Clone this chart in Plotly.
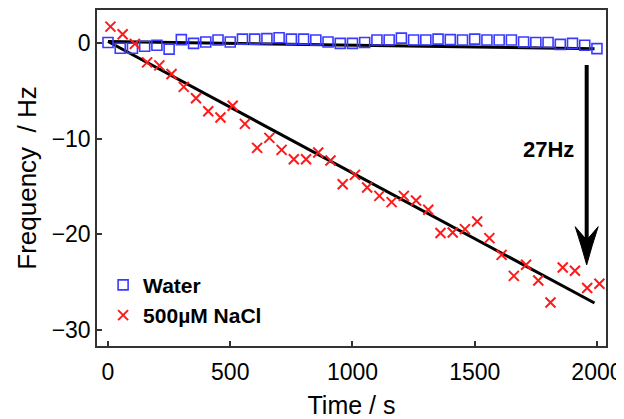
import plotly.graph_objects as go

# ---- data ----
water_t = [0, 50, 100, 150, 200, 250, 300, 350, 400, 450, 500, 550, 600, 650, 700,
           750, 800, 850, 900, 950, 1000, 1050, 1100, 1150, 1200, 1250, 1300, 1350,
           1400, 1450, 1500, 1550, 1600, 1650, 1700, 1750, 1800, 1850, 1900, 1950, 2000]
water_f = [0.1, -0.5, -0.5, -0.3, -0.2, -0.6, 0.4, 0.0, 0.15, 0.35, 0.15, 0.45, 0.45,
           0.5, 0.6, 0.45, 0.45, 0.35, 0.15, 0.0, 0.0, 0.1, 0.35, 0.35, 0.55, 0.35,
           0.35, 0.45, 0.4, 0.35, 0.45, 0.35, 0.35, 0.35, 0.15, 0.1, 0.1, -0.1, 0.0,
           -0.2, -0.55]

nacl_t = [10, 60, 110, 160, 210, 260, 310, 360, 410, 460, 510, 560, 610, 660, 710,
          760, 810, 860, 910, 960, 1010, 1060, 1110, 1160, 1210, 1260, 1310, 1360,
          1410, 1460, 1510, 1560, 1610, 1660, 1710, 1760, 1810, 1860, 1910, 1960, 2010]
nacl_f = [1.76, 0.96, -0.05, -1.99, -2.3, -3.21, -4.55, -5.74, -7.1, -7.77, -6.53,
          -8.43, -10.94, -9.9, -11.15, -12.13, -12.13, -11.43, -12.27, -14.76, -13.77,
          -15.1, -15.97, -16.63, -15.97, -16.46, -17.43, -19.87, -19.81, -19.46, -18.66,
          -20.4, -22.15, -24.35, -23.19, -24.84, -27.14, -23.48, -23.82, -25.63, -25.18]

fit_t = [0, 1990]
water_fit = [0.2, -0.55]
nacl_fit = [0.2, -27.2]

x_ticks = [0, 500, 1000, 1500, 2000]
y_ticks = [0, -10, -20, -30]

arrow_x = 1958
arrow_top = -2.25
arrow_notch = -20.6
arrow_corner = -19.2
arrow_tip = -23.2
arrow_halfwidth = 47
label_x, label_y, label_text = 1800, -11.15, "27Hz"

FONT = "Liberation Sans, Arial, sans-serif"

fig = go.Figure()
fig.add_trace(go.Scatter(x=fit_t, y=water_fit, mode="lines",
                         line=dict(color="black", width=3), showlegend=False))
fig.add_trace(go.Scatter(x=fit_t, y=nacl_fit, mode="lines",
                         line=dict(color="black", width=3), showlegend=False))
fig.add_trace(go.Scatter(x=water_t, y=water_f, mode="markers", name="Water",
                         marker=dict(symbol="square-open", size=10, color="#3a3aff",
                                     line=dict(width=1.6, color="#3a3aff"))))
fig.add_trace(go.Scatter(x=nacl_t, y=nacl_f, mode="markers", name="500µM NaCl",
                         marker=dict(symbol="x-thin-open", size=10, color="#ff1a1a",
                                     line=dict(width=2, color="#ff1a1a"))))

# arrow shaft and head
fig.add_shape(type="line", xref="x", yref="y", x0=arrow_x, x1=arrow_x,
              y0=arrow_top, y1=arrow_notch, line=dict(color="black", width=4))
L = arrow_x - arrow_halfwidth
R = arrow_x + arrow_halfwidth
head = (f"M{L},{arrow_corner} Q{arrow_x - arrow_halfwidth * 0.45},{(arrow_corner + arrow_tip) / 2} "
        f"{arrow_x},{arrow_tip} Q{arrow_x + arrow_halfwidth * 0.45},{(arrow_corner + arrow_tip) / 2} "
        f"{R},{arrow_corner} L{arrow_x},{arrow_notch} Z")
fig.add_shape(type="path", xref="x", yref="y", path=head,
              fillcolor="black", line=dict(color="black", width=1))

fig.add_annotation(x=label_x, y=label_y, xref="x", yref="y", text=f"<b>{label_text}</b>",
                   showarrow=False, font=dict(family=FONT, size=22, color="black"))

axis_common = dict(showline=True, linecolor="#333", linewidth=1.5, mirror=True,
                   ticks="inside", ticklen=5, tickwidth=1.5, tickcolor="#333",
                   showgrid=False, zeroline=False, automargin=False,
                   ticklabeloverflow="allow",
                   tickfont=dict(family=FONT, size=23, color="black"))

fig.update_xaxes(range=[-45, 2037], tickvals=x_ticks, **axis_common,
                 ticklabelstandoff=5,
                 title=dict(text="Time / s", font=dict(family=FONT, size=25, color="black"),
                            standoff=18))
fig.update_yaxes(range=[-31.7, 3.5], tickvals=y_ticks, **axis_common,
                 title=dict(text="Frequency\u00a0 / Hz", font=dict(family=FONT, size=26, color="black"),
                            standoff=8))

# the page body adds an 8 px offset, so the figure is sized to the remaining area
fig.update_layout(
    width=616, height=411,
    margin=dict(l=89, r=18, t=2, b=73),
    plot_bgcolor="white", paper_bgcolor="white",
    legend=dict(x=0.012, y=0.242, xanchor="left", yanchor="top",
                font=dict(family=FONT, size=21, color="black", weight="bold"),
                bgcolor="rgba(0,0,0,0)", itemwidth=30, tracegroupgap=0),
)

fig.write_html("out.html")
